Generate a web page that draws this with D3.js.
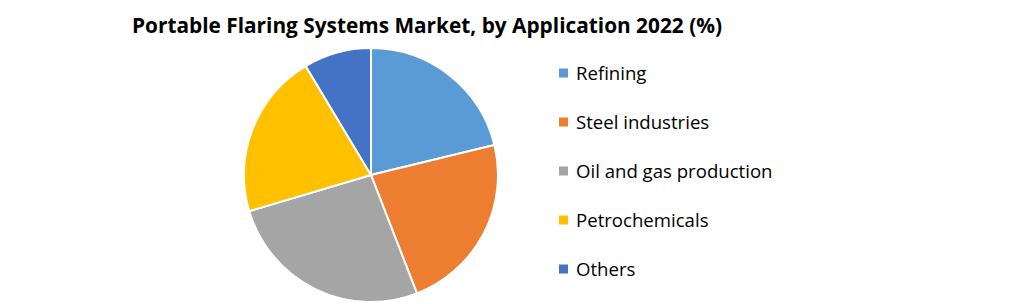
<!DOCTYPE html>
<html>
<head>
<meta charset="utf-8">
<script src="https://cdn.jsdelivr.net/npm/d3@7"></script>
<style>
  body { margin: 0; background: #fff; }
  text { font-family: "Open Sans", "Noto Sans", sans-serif; fill: #000; }
</style>
</head>
<body>
<svg width="1021" height="304"></svg>
<script>
let categories = ['Refining', 'Steel industries', 'Oil and gas production', 'Petrochemicals', 'Others'];
let shares = [21.2, 22.9, 26.3, 21.0, 8.6];
let colors = ['#5B9BD5', '#ED7D31', '#A5A5A5', '#FFC000', '#4472C4'];
let title = 'Portable Flaring Systems Market, by Application  2022 (%)';

let data = categories.map((c, i) => ({ name: c, value: shares[i] }));

let svg = d3.select('svg');

svg.append('text')
  .attr('x', 427)
  .attr('y', 33)
  .attr('text-anchor', 'middle')
  .style('font-weight', 'bold')
  .style('font-size', '21px')
  .attr('textLength', 590)
  .attr('lengthAdjust', 'spacingAndGlyphs')
  .text(title);

let color = d3.scaleOrdinal().domain(categories).range(colors);

let pie = d3.pie().sort(null).value(d => d.value);
let arc = d3.arc().innerRadius(0).outerRadius(127);

let g = svg.append('g').attr('transform', translate(371, 175));
g.selectAll('path')
  .data(pie(data))
  .enter()
  .append('path')
  .attr('d', arc)
  .attr('fill', d => color(d.data.name))
  .attr('stroke', '#fff')
  .attr('stroke-width', 2);

// legend
let y = d3.scalePoint().domain(categories).range([73, 269]);
let legend = svg.append('g');
let rows = legend.selectAll('g')
  .data(categories)
  .enter()
  .append('g')
  .attr('transform', d => translate(559, y(d)));
rows.append('rect')
  .attr('x', 0).attr('y', -4.5)
  .attr('width', 9).attr('height', 9)
  .attr('fill', d => color(d));
rows.append('text')
  .attr('x', 17)
  .attr('y', 0)
  .attr('dy', '0.35em')
  .style('font-size', '18.6px')
  .text(d => d);

function translate(x, y) {
  return `translate(${x},${y})`;
}
</script>
</body>
</html>
